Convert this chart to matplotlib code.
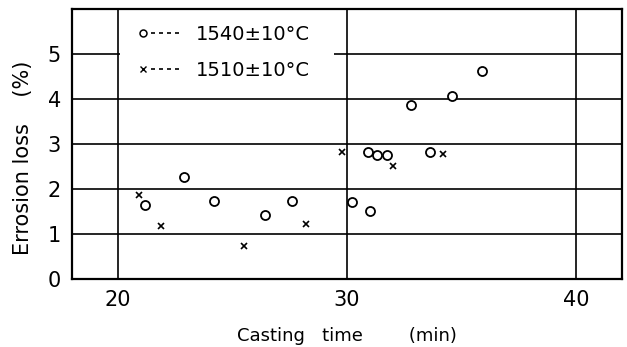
import matplotlib
matplotlib.use("Agg")
import matplotlib.pyplot as plt
from matplotlib.lines import Line2D
from matplotlib.patches import Rectangle
from matplotlib.legend_handler import HandlerBase

# 1540 +/- 10 C  (open circles)
t_1540 = [21.2, 22.9, 24.2, 26.4, 27.6, 30.2, 31.0, 30.9, 31.3, 31.75, 33.6, 32.8, 34.6, 35.9]
loss_1540 = [1.64, 2.26, 1.73, 1.42, 1.73, 1.71, 1.51, 2.82, 2.76, 2.76, 2.82, 3.87, 4.07, 4.62]

# 1510 +/- 10 C  (crosses)
t_1510 = [20.9, 21.9, 25.5, 28.2, 29.8, 32.0, 34.2]
loss_1510 = [1.87, 1.18, 0.73, 1.22, 2.82, 2.51, 2.78]

labels = ['1540\u00b110\u00b0C', '1510\u00b110\u00b0C']
xticks = [20, 30, 40]
yticks = [0, 1, 2, 3, 4, 5]


class MarkerDashes(HandlerBase):
    # marker at the left, short dashes after it: "o----"
    def create_artists(self, legend, orig, xdescent, ydescent, width, height, fontsize, trans):
        y = height / 2 - ydescent
        x0 = -xdescent
        m = Line2D([x0 + 3], [y], marker=orig.get_marker(), ms=orig.get_markersize(),
                   mfc=orig.get_markerfacecolor(), mec=orig.get_markeredgecolor(),
                   mew=orig.get_markeredgewidth(), ls='none', transform=trans)
        d = Line2D([x0 + 9, x0 + width], [y, y], color='black', lw=1.2,
                   dashes=(2.4, 2.4), transform=trans)
        return [m, d]


plt.rcParams['font.family'] = ['DejaVu Sans']

fig = plt.figure(figsize=(6.27, 3.47), dpi=100)
ax = fig.add_axes([0.115, 0.196, 0.877, 0.778])

ax.set_xlim(18, 42)
ax.set_ylim(0, 6)
ax.set_xticks(xticks)
ax.set_yticks(yticks)
ax.tick_params(length=0, labelsize=15, pad=8)

for v in xticks:
    ax.axvline(v, color='black', lw=1.2, zorder=1)
for v in yticks[1:]:
    ax.axhline(v, color='black', lw=1.2, zorder=1)
for s in ax.spines.values():
    s.set_linewidth(1.6)

# blank area behind the legend
ax.add_patch(Rectangle((20.08, 4.04), 9.35, 2, facecolor='white', edgecolor='none', zorder=1.5))

ax.plot(t_1540, loss_1540, 'o', mfc='white', mec='black', mew=1.3, ms=6.5, ls='none', zorder=3)
ax.plot(t_1510, loss_1510, 'x', color='black', mew=1.2, ms=5, ls='none', zorder=3)

ax.set_xlabel('Casting   time        (min)', fontsize=13, labelpad=12)
ax.set_ylabel('Errosion loss    (%)', fontsize=15)
ax.yaxis.set_label_coords(-0.072, 0.45)

h1 = Line2D([], [], marker='o', mfc='white', mec='black', mew=1.1, ms=5, ls='none')
h2 = Line2D([], [], marker='x', color='black', mec='black', mew=1.0, ms=4.5, ls='none')
leg = ax.legend([h1, h2], labels, handler_map={Line2D: MarkerDashes()},
                loc='upper left', bbox_to_anchor=(0.114, 0.955), fontsize=14,
                handlelength=2.2, handletextpad=0.75, labelspacing=0.88,
                borderpad=0.2, borderaxespad=0.0, frameon=False)
leg.set_zorder(2)

fig.savefig('out.png', dpi=100)
